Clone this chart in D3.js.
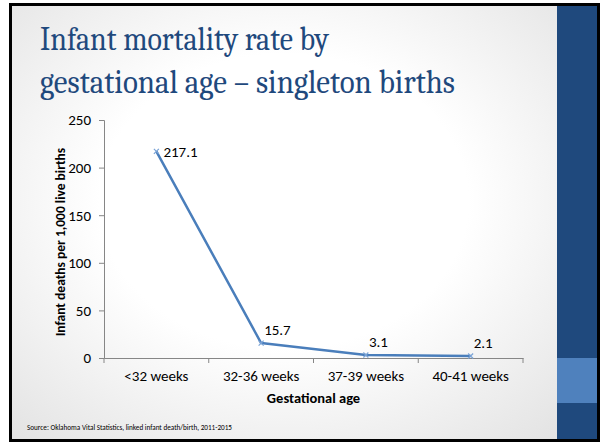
<!DOCTYPE html>
<html>
<head>
<meta charset="utf-8">
<script src="https://cdn.jsdelivr.net/npm/d3@7"></script>
<style>
  html, body { margin: 0; padding: 0; background: #fff; }
  svg { display: block; }
</style>
</head>
<body>
<svg id="slide" width="602" height="445"></svg>
<script>
// chart data
const categories = ['<32 weeks', '32-36 weeks', '37-39 weeks', '40-41 weeks']
const rates = [217.1, 15.7, 3.1, 2.1]
const yTicks = [0, 50, 100, 150, 200, 250]
const titleLines = ['Infant mortality rate by', 'gestational age \u2013 singleton births']
const sourceText = 'Source: Oklahoma Vital Statistics, linked infant death/birth, 2011-2015'

const svg = d3.select('#slide')
const font = 'Calibri, Carlito, "Liberation Sans", Arial, sans-serif'

// slide background with soft grey edges
const defs = svg.append('defs')
const grad = defs.append('radialGradient')
	.attr('id', 'bg')
	.attr('cx', '50%').attr('cy', '45%').attr('r', '75%')
grad.append('stop').attr('offset', '45%').attr('stop-color', '#ffffff')
grad.append('stop').attr('offset', '100%').attr('stop-color', '#e2e2e2')

svg.append('rect')
	.attr('x', 0).attr('y', 0).attr('width', 602).attr('height', 445)
	.attr('fill', '#fff')

svg.append('rect')
	.attr('x', 11).attr('y', 5).attr('width', 546).attr('height', 436)
	.attr('fill', 'url(#bg)')

// right side panel
svg.append('rect')
	.attr('x', 557).attr('y', 5).attr('width', 41).attr('height', 436)
	.attr('fill', '#1f497d')
svg.append('rect')
	.attr('x', 557).attr('y', 358).attr('width', 41).attr('height', 45)
	.attr('fill', '#4f81bd')

// frame
svg.append('rect')
	.attr('x', 10.5).attr('y', 4.5).attr('width', 588).attr('height', 436)
	.attr('fill', 'none')
	.attr('stroke', '#000')
	.attr('stroke-width', 3)

// title
svg.append('g')
	.selectAll('text')
	.data(titleLines)
	.join('text')
	.attr('x', 40)
	.attr('y', (d, i) => 50 + i * 43)
	.attr('font-family', 'Cambria, Caladea, "Liberation Serif", "DejaVu Serif", serif')
	.attr('font-size', 34)
	.attr('fill', '#1f497d')
	.attr('textLength', (d, i) => i === 0 ? 289 : 415)
	.attr('lengthAdjust', 'spacingAndGlyphs')
	.text(d => d)

// plot area
const margin = {left: 104, right: 523, top: 120, bottom: 358}

const x = d3.scaleBand()
	.domain(categories)
	.range([margin.left, margin.right])

const y = d3.scaleLinear()
	.domain([0, 250])
	.range([margin.bottom, margin.top])

const axisColor = '#868686'

const yAxis = svg.append('g')
	.attr('transform', `translate(${margin.left},0)`)
	.call(d3.axisLeft(y).tickValues(yTicks).tickSize(5).tickPadding(8))
yAxis.select('.domain').attr('stroke', axisColor)
yAxis.selectAll('.tick line').attr('stroke', axisColor)
yAxis.selectAll('.tick text')
	.attr('font-family', font)
	.attr('font-size', 15)
	.attr('fill', '#000')

const xAxis = svg.append('g')
	.attr('transform', `translate(0,${margin.bottom})`)
	.call(d3.axisBottom(x).tickSize(0).tickPadding(12))
xAxis.select('.domain').attr('stroke', axisColor)
xAxis.selectAll('.tick text')
	.attr('font-family', font)
	.attr('font-size', 15)
	.attr('fill', '#000')

// category boundary ticks
const bounds = categories.map(c => x(c)).concat([x.range()[1]])
svg.append('g')
	.selectAll('line')
	.data(bounds)
	.join('line')
	.attr('x1', d => d).attr('x2', d => d)
	.attr('y1', margin.bottom).attr('y2', margin.bottom + 5)
	.attr('stroke', axisColor)

// axis titles
svg.append('text')
	.attr('x', (margin.left + margin.right) / 2)
	.attr('y', 403)
	.attr('text-anchor', 'middle')
	.attr('font-family', font)
	.attr('font-size', 14.5)
	.attr('font-weight', 'bold')
	.text('Gestational age')

svg.append('text')
	.attr('transform', `translate(65,${(margin.top + margin.bottom) / 2 + 3}) rotate(-90)`)
	.attr('text-anchor', 'middle')
	.attr('font-family', font)
	.attr('font-size', 13.5)
	.attr('font-weight', 'bold')
	.text('Infant deaths per 1,000 live births')

// series line
const cx = c => x(c) + x.bandwidth() / 2
const points = categories.map((c, i) => ({c: c, v: rates[i]}))

svg.append('path')
	.datum(points)
	.attr('d', d3.line().x(d => cx(d.c)).y(d => y(d.v)))
	.attr('fill', 'none')
	.attr('stroke', '#4a7ebb')
	.attr('stroke-width', 2.5)
	.attr('stroke-linejoin', 'round')

// x markers
const m = 2.5
svg.append('g')
	.selectAll('path')
	.data(points)
	.join('path')
	.attr('d', d => {
		let px = cx(d.c), py = y(d.v)
		return `M${px - m},${py - m}L${px + m},${py + m}M${px - m},${py + m}L${px + m},${py - m}`
	})
	.attr('stroke', '#7aa3d6')
	.attr('stroke-width', 1.2)

// data labels
svg.append('g')
	.selectAll('text')
	.data(points)
	.join('text')
	.attr('x', (d, i) => cx(d.c) + (i === 0 ? 7 : 3))
	.attr('y', (d, i) => y(d.v) + (i === 0 ? 6 : -8))
	.attr('font-family', font)
	.attr('font-size', 15)
	.attr('fill', '#000')
	.text(d => d.v)

// source note
svg.append('text')
	.attr('x', 27)
	.attr('y', 430)
	.attr('font-family', font)
	.attr('font-size', 7.2)
	.attr('fill', '#000')
	.text(sourceText)
</script>
</body>
</html>
